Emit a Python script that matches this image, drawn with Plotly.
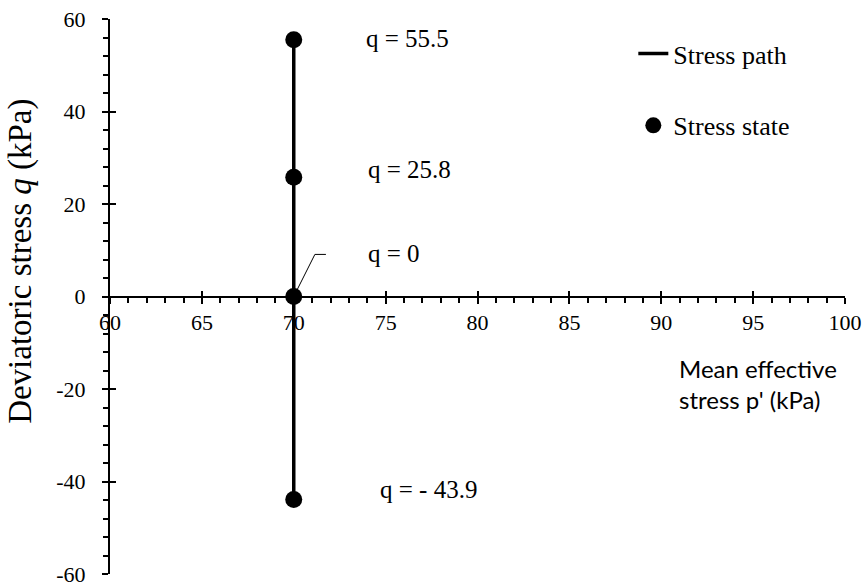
import plotly.graph_objects as go

# Data
p_values = [70, 70, 70, 70]
q_values = [-43.9, 0, 25.8, 55.5]
q_labels = ["q = - 43.9", "q = 0", "q = 25.8", "q = 55.5"]
label_x = [74.6, 73.95, 73.95, 73.85]
label_y = [-41.7, 9.4, 27.5, 55.8]

x_ticks = [60, 65, 70, 75, 80, 85, 90, 95, 100]
y_ticks = [-60, -40, -20, 0, 20, 40, 60]

SERIF = "Liberation Serif, Times New Roman, serif"
FS = 22

fig = go.Figure()

fig.add_trace(go.Scatter(
    x=p_values, y=q_values, mode="lines", name="Stress path",
    line=dict(color="black", width=3.5), legendgroup="a", showlegend=True))
fig.add_trace(go.Scatter(
    x=p_values, y=q_values, mode="markers", name="Stress state",
    marker=dict(color="black", size=17), legendgroup="b", showlegend=True))

for t, lx, ly in zip(q_labels, label_x, label_y):
    fig.add_annotation(x=lx, y=ly, xref="x", yref="y", text=t, showarrow=False,
                       xanchor="left", yanchor="middle",
                       font=dict(family=SERIF, size=25, color="black"))

# leader line for q = 0
fig.add_shape(type="path", xref="x", yref="y",
              path="M 70 0 L 71.15 9.1 L 71.75 9.1",
              line=dict(color="black", width=1))

axis_common = dict(showgrid=False, zeroline=False, color="black", automargin=False,
                   ticklabeloverflow="allow",
                   tickfont=dict(family=SERIF, size=FS, color="black"))

fig.update_layout(
    width=868, height=588,
    margin=dict(l=110, r=23, t=19, b=14),
    paper_bgcolor="white", plot_bgcolor="white",
    xaxis=dict(range=[60, 100], tickvals=x_ticks, ticktext=[str(v) for v in x_ticks],
               ticks="outside", ticklen=6, tickwidth=2, tickcolor="black",
               showline=True, linewidth=2, linecolor="black",
               anchor="free", position=0.5,
               minor=dict(dtick=1, tick0=60, ticks="outside", ticklen=5, tickwidth=2, tickcolor="black"),
               **axis_common),
    yaxis=dict(range=[-60, 60], tickvals=y_ticks, ticktext=[str(v) for v in y_ticks],
               ticks="outside", ticklen=6, tickwidth=2, tickcolor="black",
               showline=True, linewidth=2, linecolor="black",
               ticklabelstandoff=12,
               minor=dict(dtick=4, tick0=-60, ticks="outside", ticklen=5, tickwidth=2, tickcolor="black"),
               **axis_common),
    xaxis2=dict(range=[60, 100], overlaying="x", tickvals=x_ticks, ticks="inside", ticklen=6,
                tickwidth=2, tickcolor="black", showticklabels=False, showline=False,
                showgrid=False, zeroline=False, anchor="free", position=0.5, automargin=False),
    yaxis2=dict(range=[-60, 60], overlaying="y", tickvals=y_ticks, ticks="inside", ticklen=6,
                tickwidth=2, tickcolor="black", showticklabels=False, showline=False,
                showgrid=False, zeroline=False, anchor="x", automargin=False),
    legend=dict(x=0.712, y=0.98, xanchor="left", yanchor="top", tracegroupgap=35,
                font=dict(family=SERIF, size=26, color="black"), bgcolor="rgba(0,0,0,0)"),
)

# invisible trace so overlay axes are rendered
fig.add_trace(go.Scatter(x=[None], y=[None], xaxis="x2", yaxis="y2", showlegend=False, hoverinfo="skip"))

fig.add_annotation(xref="paper", yref="paper", x=-0.122, y=0.563,
                   text="Deviatoric stress <i>q</i> (kPa)", textangle=-90, showarrow=False,
                   xanchor="center", yanchor="middle",
                   font=dict(family=SERIF, size=33, color="black"))

fig.add_annotation(xref="paper", yref="paper", x=0.772, y=0.40,
                   text="Mean effective<br>stress p' (kPa)", showarrow=False,
                   xanchor="left", yanchor="top", align="left",
                   font=dict(family="Lato, Noto Sans, sans-serif", size=24, color="black"))

fig.write_html("out.html", config={"displayModeBar": False},
               post_script="document.body.style.margin='0px';")
